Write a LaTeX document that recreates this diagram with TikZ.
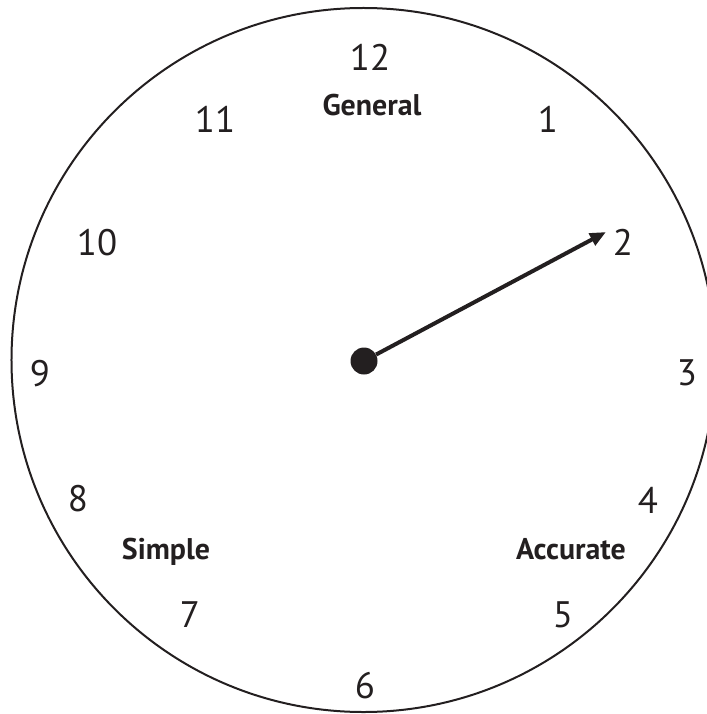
\documentclass[tikz,border=0pt]{standalone}
\usepackage{fontspec}
\setmainfont{PT Sans}
\usetikzlibrary{arrows.meta}
\definecolor{ink}{HTML}{231F20}
\begin{document}
\begin{tikzpicture}[x=1bp,y=-1bp,
  num/.style={anchor=base,inner sep=0pt,text=ink,font=\fontsize{37}{37}\selectfont},
  lbl/.style={anchor=base,inner sep=0pt,text=ink,font=\bfseries\fontsize{30}{30}\selectfont}]
\useasboundingbox (0,0) rectangle (707,714);
\clip (0,0) rectangle (707,714);
\draw[ink,line width=2bp] (363.5,360) circle [radius=352bp];
\node[num] (n12) at (370,71) {12};
\node[num] (n11) at (215,133) {11};
\node[num] (n1) at (548,133) {1};
\node[num] (n10) at (97,255) {10};
\node[num] (n2) at (623,255) {2};
\node[num] (n9) at (40,386) {9};
\node[num] (n3) at (687,385) {3};
\node[num] (n8) at (78,511) {8};
\node[num] (n4) at (648,513) {4};
\node[num] (n7) at (190,627) {7};
\node[num] (n5) at (563,627) {5};
\node[num] (n6) at (365,698) {6};
\node[lbl] (gen) at (372,116) {General};
\node[lbl] (sim) at (166,559) {Simple};
\node[lbl] (acc) at (571,559) {Accurate};
\node[circle,fill=ink,minimum size=27bp,inner sep=0pt] (hub) at (364,361) {};
\coordinate (tip) at (606,232);
\draw[ink,line width=4bp,-{Triangle[length=16bp,width=13bp]}] (hub) -- (tip);
\end{tikzpicture}
\end{document}
